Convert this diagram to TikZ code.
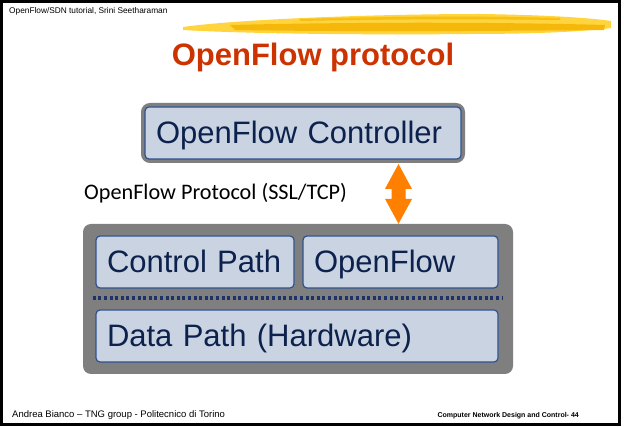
\documentclass[tikz,border=0pt]{standalone}
\usepackage{fontspec}
\setmainfont{Liberation Sans}
\newfontfamily\calibri{Carlito}
\usetikzlibrary{positioning, calc}

\definecolor{titlered}{RGB}{204,51,0}
\definecolor{boxfill}{RGB}{201,211,226}
\definecolor{boxline}{RGB}{47,82,143}
\definecolor{boxtext}{RGB}{12,33,76}
\definecolor{dotblue}{RGB}{28,50,105}
\definecolor{framegray}{RGB}{127,127,127}
\definecolor{arroworange}{RGB}{255,128,0}
\definecolor{brushlight}{RGB}{255,212,60}
\definecolor{brushdark}{RGB}{245,184,10}

\begin{document}
\begin{tikzpicture}[
    x=1pt, y=-1pt,
    smalltxt/.style={anchor=base west, inner sep=0pt, font=\fontsize{8.3}{9}\selectfont},
    titletxt/.style={anchor=base, inner sep=0pt, text=titlered, font=\fontsize{31}{36}\selectfont\bfseries},
    pathbox/.style={draw=boxline, line width=1.2pt, rounded corners=4pt, fill=boxfill, text=boxtext,
        align=left, inner xsep=11pt, inner ysep=0pt, minimum height=52pt,
        text height=22pt, text depth=0pt, font=\fontsize{31}{36}\selectfont},
    ctrlframe/.style={draw=framegray, line width=4pt, rounded corners=7pt},
    swframe/.style={fill=framegray, rounded corners=8pt},
    dotsep/.style={dotblue, line width=3.5pt, dash pattern=on 3pt off 2.6pt},
    updown/.style={fill=arroworange}
]

\useasboundingbox (0,0) rectangle (624,427);

% slide frame & brush stroke
\draw[line width=3pt] (1.5,1.5) rectangle (619.5,424.5);
\fill[brushlight] (183,27) .. controls (240,19) and (380,14) .. (480,14) .. controls (550,15) and (590,18) .. (611,21)
    -- (611,28) .. controls (580,32) and (530,34) .. (470,34) .. controls (380,35) and (250,34) .. (183,30) -- cycle;
\fill[brushdark] (230,25) .. controls (350,22) and (500,22) .. (605,25) -- (604,30) .. controls (500,31) and (350,32) .. (235,30) -- cycle;
\fill[brushdark!80!brushlight] (300,19) .. controls (400,16) and (480,16) .. (560,18) -- (560,20) .. controls (480,19) and (400,19) .. (300,21) -- cycle;

% header & title
\node[smalltxt] (hdr) at (9,14) {OpenFlow/SDN tutorial, Srini Seetharaman};
\node[titletxt] (title) at (313,66) {OpenFlow protocol};

% Controller
\node[ctrlframe, minimum width=320pt, minimum height=56pt] (ctrlbox) at (303,133) {};
\node[pathbox, text width=294pt] (ctrl) at (303,133) {OpenFlow Controller};

% Switch
\node[swframe, minimum width=430pt, minimum height=150pt] (sw) at (298,299) {};
\node[pathbox, text width=176pt] (cpath) at (195,262) {Control Path};
\node[pathbox, text width=173pt] (ofbox) at (400.5,262) {OpenFlow};
\node[pathbox, text width=380pt] (dpath) at (297,336) {Data Path (Hardware)};
\draw[dotsep] ($(sw.west)+(10,-1)$) -- ($(sw.east)+(-10,-1)$);

% Protocol arrow
\node[anchor=base west, inner sep=0pt, font=\calibri\fontsize{22.2}{26}\selectfont] (proto) at (84,200) {OpenFlow Protocol (SSL/TCP)};
\coordinate (atop) at ($(ctrlbox.south)+(95.5,1)$);
\coordinate (abot) at (atop |- sw.north);
\fill[updown] (atop) -- ++(13.5,25) -- ++(-6.5,0) -- ++(0,10) -- ++(6.5,0) -- (abot)
    -- ++(-13.5,-25) -- ++(6.5,0) -- ++(0,-10) -- ++(-6.5,0) -- cycle;

% footer
\node[smalltxt, font=\fontsize{9.5}{11}\selectfont] (foot) at (12,418) {Andrea Bianco -- TNG group - Politecnico di Torino};
\node[smalltxt, anchor=base east, font=\fontsize{7}{9}\selectfont\bfseries] (pagenum) at (579,418) {Computer Network Design and Control- 44};

\end{tikzpicture}
\end{document}
